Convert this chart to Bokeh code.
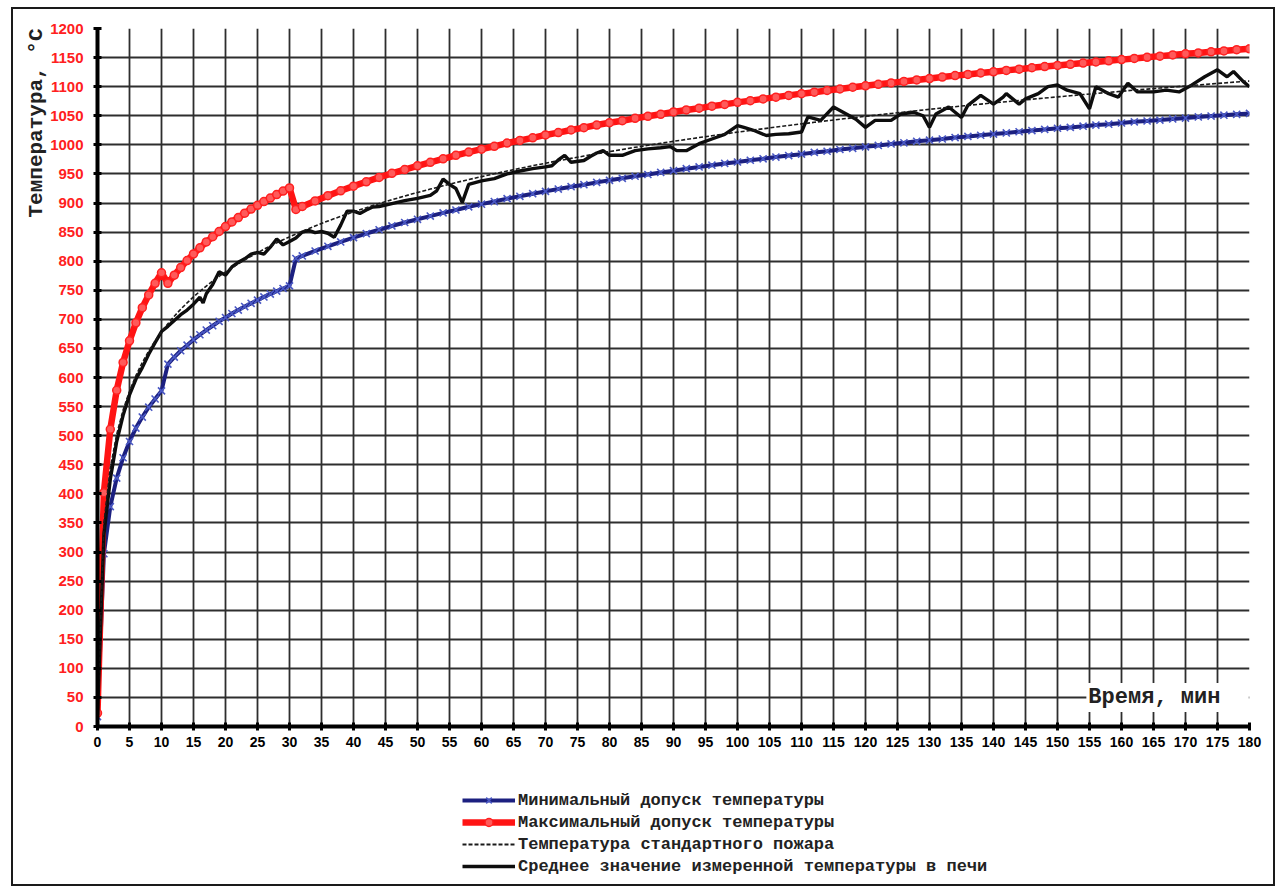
from bokeh.plotting import figure
from bokeh.layouts import column
from bokeh.models import Range1d, FixedTicker, Legend, LegendItem, Label, Title
from bokeh.embed import file_html
from bokeh.resources import INLINE

# ---- data ----
x_ticks = [0, 5, 10, 15, 20, 25, 30, 35, 40, 45, 50, 55, 60, 65, 70, 75, 80, 85, 90,
           95, 100, 105, 110, 115, 120, 125, 130, 135, 140, 145, 150, 155, 160, 165,
           170, 175, 180]
y_ticks = [0, 50, 100, 150, 200, 250, 300, 350, 400, 450, 500, 550, 600, 650, 700,
           750, 800, 850, 900, 950, 1000, 1050, 1100, 1150, 1200]

t_tol = [0, 1, 2, 3, 4, 5, 6, 7, 8, 9, 10, 11, 12, 13, 14, 15, 16, 17, 18, 19, 20,
         21, 22, 23, 24, 25, 26, 27, 28, 29, 30, 31,
         32, 34, 36, 38, 40, 42, 44, 46, 48, 50, 52, 54, 56, 58, 60, 62, 64, 66, 68, 70,
         72, 74, 76, 78, 80, 82, 84, 86, 88, 90, 92, 94, 96, 98, 100, 102, 104, 106, 108,
         110, 112, 114, 116, 118, 120, 122, 124, 126, 128, 130, 132, 134, 136, 138, 140,
         142, 144, 146, 148, 150, 152, 154, 156, 158, 160, 162, 164, 166, 168, 170, 172,
         174, 176, 178, 180]

std_temp = [20, 349.2, 444.5, 502.3, 543.9, 576.4, 603.1, 625.8, 645.5, 662.8, 678.4,
            692.5, 705.4, 717.3, 728.3, 738.6, 748.2, 757.2, 765.7, 773.7, 781.4,
            788.6, 795.5, 802.2, 808.5, 814.6, 820.5, 826.1, 831.5, 836.7, 841.8, 846.7,
            851.4, 860.5, 869.0, 877.1, 884.7, 892.0, 899.0, 905.6, 912.0, 918.1,
            923.9, 929.6, 935.0, 940.3, 945.3, 950.2, 955.0, 959.6, 964.1, 968.4,
            972.6, 976.7, 980.7, 984.6, 988.4, 992.0, 995.7, 999.2, 1002.6, 1006.0,
            1009.3, 1012.5, 1015.6, 1018.7, 1021.8, 1024.7, 1027.6, 1030.5, 1033.3, 1036.0,
            1038.7, 1041.4, 1044.0, 1046.5, 1049.0, 1051.5, 1054.0, 1056.3, 1058.7, 1061.0,
            1063.3, 1065.6, 1067.8, 1070.0, 1072.1, 1074.2, 1076.3, 1078.4, 1080.4, 1082.4,
            1084.4, 1086.4, 1088.3, 1090.2, 1092.1, 1094.0, 1095.8, 1097.6, 1099.4, 1101.2,
            1102.9, 1104.7, 1106.4, 1108.1, 1109.7]

max_temp = [23, 402, 511, 578, 626, 663, 694, 720, 742, 762, 780,
            762, 776, 789, 801, 812.5, 823, 833, 842, 851, 859.5, 867.5, 875, 882.5,
            889.5, 896, 902.5, 908.5, 914.5, 920.5, 926, 889,
            894, 903.5, 912.5, 921, 929, 936.5, 944, 951, 957.5, 964,
            970, 976, 982, 987.5, 992.5, 997.5, 1003, 1007.5, 1012, 1017,
            1021, 1025.5, 1029.5, 1034, 1038, 1041.5, 1045.5, 1049, 1052.5, 1056.5,
            1060, 1063, 1066.5, 1069.5, 1073, 1076, 1079, 1082, 1085, 1088,
            1090.5, 1093.5, 1096, 1099, 1101.5, 1104, 1106.5, 1109, 1111.5, 1114,
            1116.5, 1119, 1121, 1123.5, 1125.5, 1128, 1130, 1132.5, 1134.5, 1136.5,
            1138.5, 1140.5, 1142.5, 1144.5, 1146.5, 1148.5, 1150.5, 1152.5, 1154.5, 1156.5,
            1158, 1160, 1161.5, 1163.5, 1165]

min_temp = [17, 297, 378, 427, 462, 490, 513, 532, 549, 563, 577,
            623, 635, 646, 655.5, 665, 673.5, 681.5, 689, 696.5, 703, 710, 716, 722,
            727.5, 733, 738.5, 743.5, 748.5, 753, 757.5, 804.5,
            809, 817.5, 825.5, 833, 840.5, 847.5, 854, 860.5, 866.5, 872,
            877.5, 883, 888, 893.5, 898, 902.5, 907.5, 911.5, 916, 920,
            924, 928, 931.5, 935.5, 939, 942.5, 946, 949, 952.5, 955.5,
            959, 962, 965, 968, 970.5, 973.5, 976, 979, 981.5, 984,
            987, 989, 992, 994, 996.5, 999, 1001.5, 1003.5, 1006, 1008,
            1010, 1012.5, 1014.5, 1016.5, 1018.5, 1020.5, 1022.5, 1024.5, 1026.5, 1028.5,
            1030, 1032, 1034, 1035.5, 1037.5, 1039.5, 1041, 1042.5, 1044.5, 1046,
            1048, 1049.5, 1051, 1052.5, 1054]

meas_t = [0, 1, 2, 3, 4, 5, 6, 7, 8, 9, 10, 11, 12, 13, 14, 15, 16, 16.5, 17, 18, 19,
          20, 21, 22, 23, 24, 25, 26, 27, 28, 29, 30, 31, 32, 33, 34, 35, 36, 37, 38, 39,
          40, 41, 42, 43, 44, 46, 48, 50, 52, 53, 54, 55, 56, 57, 58, 60, 62, 64, 66, 68,
          70, 71, 72, 73, 74, 76, 77, 78, 79, 80, 82, 84, 86, 88, 89.5, 90.5, 92, 94, 96,
          98, 100, 101, 102.5, 104.5, 106, 108, 110, 111, 113, 115, 117, 118.5, 120,
          121.5, 124, 125.5, 127.5, 129, 130, 131, 133, 135, 136, 138, 140, 141.5, 142,
          144, 145, 147, 148.5, 150, 151.5, 153.5, 155, 156, 158, 159.5, 161, 162.5, 165,
          167, 169, 171, 173, 175, 176.5, 177.5, 179, 180]
meas_v = [20, 330, 425, 490, 535, 570, 597, 617, 640, 660, 679, 688, 698, 708, 716, 726,
          738, 728, 744, 760, 782, 776, 790, 798, 804, 812, 815, 812, 824, 838, 828, 834,
          840, 850, 853, 849, 851, 848, 841, 862, 886, 886, 882, 888, 893, 894, 899, 904,
          908, 913, 921, 941, 932, 925, 901, 932, 938, 942, 950, 955, 959, 962, 964, 974,
          982, 970, 973, 980, 986, 990, 982, 982, 990, 993, 995, 997, 990, 990, 1002, 1010,
          1018, 1033, 1030, 1025, 1016, 1018, 1019, 1022, 1048, 1042, 1065, 1053, 1044,
          1030, 1042, 1042, 1053, 1056, 1050, 1030, 1053, 1065, 1047, 1068, 1085, 1070,
          1082, 1088, 1070, 1079, 1088, 1100, 1103, 1094, 1088, 1062, 1100, 1088, 1082,
          1106, 1091, 1091, 1094, 1091, 1103, 1117, 1129, 1117, 1126, 1109, 1100]

series_names = ["Минимальный допуск температуры",
                "Максимальный допуск температуры",
                "Температура стандартного пожара",
                "Среднее значение измеренной температуры в печи"]

MIN_LINE = "#1c2080"
MIN_MARK = "#4a58c4"
MAX_LINE = "#ff1414"
MAX_MARK = "#ff2020"
MAX_FILL = "#ff5a5a"
MEAS = "#0d0d0d"
STD = "#1a1a1a"


def draw_series(fig, lw_scale=1.0):
    r1 = fig.line(t_tol, min_temp, line_color=MIN_LINE, line_width=4)
    r2 = fig.scatter(t_tol, min_temp, marker="x", size=10, line_color=MIN_MARK, line_width=1.6)
    r3 = fig.line(t_tol, max_temp, line_color=MAX_LINE, line_width=6.5)
    r4 = fig.scatter(t_tol, max_temp, marker="circle", size=8, line_color=MAX_MARK,
                     fill_color=MAX_FILL, line_width=1.5)
    r5 = fig.line(meas_t, meas_v, line_color=MEAS, line_width=3.4)
    r6 = fig.line(t_tol, std_temp, line_color=STD, line_width=1.6 * lw_scale, line_dash="4 2")
    return r1, r2, r3, r4, r5, r6


# ---- main figure ----
p = figure(width=1260, height=760, x_range=Range1d(0, 180), y_range=Range1d(0, 1200),
           output_backend="svg", toolbar_location=None,
           min_border_left=84, min_border_right=24, min_border_top=19, min_border_bottom=43)
p.outline_line_color = None
p.background_fill_color = "white"
p.border_fill_color = "white"

p.xaxis.ticker = FixedTicker(ticks=x_ticks)
p.yaxis.ticker = FixedTicker(ticks=y_ticks)
p.xgrid.ticker = FixedTicker(ticks=x_ticks)
p.ygrid.ticker = FixedTicker(ticks=y_ticks)
for g in (p.xgrid, p.ygrid):
    g.grid_line_color = "#2e2e2e"
    g.grid_line_width = 1.8
    g.grid_line_alpha = 1.0

for ax in (p.xaxis, p.yaxis):
    ax.axis_line_width = 4
    ax.axis_line_color = "black"
    ax.major_tick_line_width = 3
    ax.major_tick_line_color = "black"
    ax.major_tick_in = 4
    ax.major_tick_out = 4
    ax.minor_tick_line_color = None

p.yaxis.major_label_text_color = "#ff2020"
p.yaxis.major_label_text_font = "Liberation Sans"
p.yaxis.major_label_text_font_style = "bold"
p.yaxis.major_label_text_font_size = "15px"
p.yaxis.major_label_standoff = 10

p.xaxis.major_label_text_color = "black"
p.xaxis.major_label_text_font = "Liberation Sans"
p.xaxis.major_label_text_font_style = "bold"
p.xaxis.major_label_text_font_size = "14px"
p.xaxis.major_label_standoff = 6

ytitle = Title(text="Температура, °С", align="right", text_font="Liberation Mono",
               text_font_style="bold", text_font_size="21px", text_color="#222222",
               standoff=0)
p.add_layout(ytitle, "left")

draw_series(p)

xlab = Label(x=167.2, y=50, text=" Время, мин ", text_align="center", text_baseline="middle",
             text_font="Liberation Mono", text_font_style="bold", text_font_size="22px",
             text_color="#222222", background_fill_color="white", padding=2)
p.add_layout(xlab)

# ---- legend strip: same series, ranges chosen so only the legend shows ----
q = figure(width=1260, height=115, x_range=Range1d(-20, -10), y_range=Range1d(-20, -10),
           output_backend="svg", toolbar_location=None, x_axis_type=None, y_axis_type=None,
           min_border_left=0, min_border_right=0, min_border_top=0, min_border_bottom=0)
q.outline_line_color = None
q.background_fill_color = "white"
q.border_fill_color = "white"
lg = draw_series(q, lw_scale=1.3)

legend = Legend(items=[
    LegendItem(label=series_names[0], renderers=[lg[0], lg[1]]),
    LegendItem(label=series_names[1], renderers=[lg[2], lg[3]]),
    LegendItem(label=series_names[2], renderers=[lg[5]]),
    LegendItem(label=series_names[3], renderers=[lg[4]]),
], location=(365, 8), border_line_color=None, background_fill_alpha=0,
    label_text_font="Liberation Mono", label_text_font_style="bold",
    label_text_font_size="17px", label_text_color="#222222",
    glyph_width=53, glyph_height=20, label_height=20, spacing=2,
    padding=0, margin=0, label_standoff=3)
q.add_layout(legend)

layout = column(p, q, spacing=0,
                styles={"border": "2px solid #1a1a1a", "margin-left": "11px", "margin-top": "7px"})

open("out.html", "w").write(file_html(layout, INLINE))
